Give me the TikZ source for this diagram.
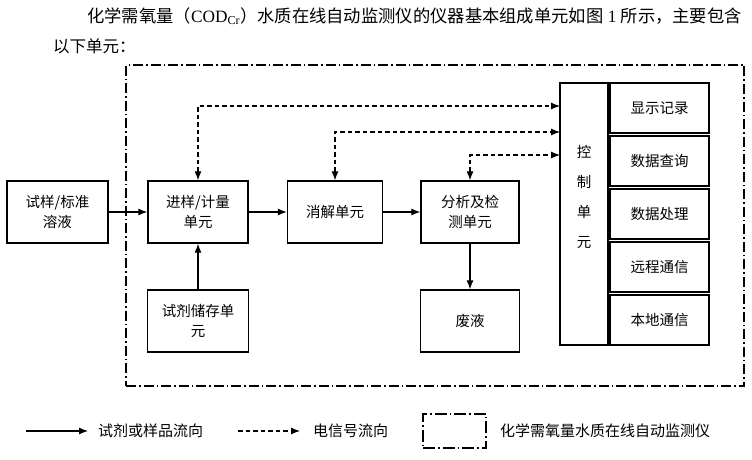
\documentclass[tikz,border=0pt]{standalone}
\usepackage{fontspec}
\setmainfont{Liberation Serif}
\newfontfamily\cjk{Noto Sans CJK SC}
\usetikzlibrary{arrows.meta, positioning}

\begin{document}
\begin{tikzpicture}[
            x=1pt, y=-1pt,
            every node/.style={font=\cjk\fontsize{14.5}{20}\selectfont, align=center, inner sep=0pt},
            box/.style={draw, line width=1.3pt, minimum width=100pt, minimum height=62pt},
            modbox/.style={draw, line width=1.3pt, minimum width=99pt, minimum height=50pt},
            flow/.style={-{Latex[length=9pt, width=7pt]}, line width=1.1pt},
            sig/.style={{Latex[length=9pt, width=7pt]}-{Latex[length=9pt, width=7pt]}, line width=1.1pt, dash pattern=on 4.5pt off 3pt},
            frame/.style={draw, line width=1.1pt, dash pattern=on 10pt off 3pt on 1.5pt off 3pt}
        ]
        \useasboundingbox (0,0) rectangle (752,460);

        % Text above the figure
        \node[anchor=west, font=\cjk\fontsize{17.3}{20}\selectfont] (para1) at (87,16)
            {化学需氧量（{\rmfamily COD\textsubscript{Cr}}）水质在线自动监测仪的仪器基本组成单元如图{\rmfamily\ 1 }所示，主要包含};
        \node[anchor=west, font=\cjk\fontsize{16.5}{20}\selectfont] (para2) at (53,46) {以下单元：};

        % Instrument frame
        \node[frame, minimum width=618pt, minimum height=321pt] (instrument) at (435,225.5) {};

        % Nodes
        \node[box, minimum width=101pt] (sample) at (57.5,212) {试样/标准\\溶液};
        \node[box] (inject) at (198,212) {进样/计量\\单元};
        \node[box, minimum width=95pt] (digest) at (335,212) {消解单元};
        \node[box, minimum width=98pt] (analyze) at (470,212) {分析及检\\测单元};
        \node[box, minimum width=101pt] (store) at (198,321) {试剂储存单\\元};
        \node[box, minimum width=99pt] (waste) at (470,321) {废液};

        % Control unit and its modules
        \node[draw, line width=1.3pt, minimum width=48pt, minimum height=262pt] (ctrl) at (584,214) {};
        \node[font=\cjk\fontsize{14.5}{30}\selectfont] (ctrltext) at (584,197) {控\\制\\单\\元};
        \foreach \name/\txt [count=\i] in {show/显示记录, query/数据查询, proc/数据处理, remote/远程通信, local/本地通信}
            \node[modbox] (\name) at (659.5,55+53*\i) {\txt};

        % Connections
        \draw[flow] (sample) -- (inject);
        \draw[flow] (inject) -- (digest);
        \draw[flow] (digest) -- (analyze);
        \draw[flow] (store) -- (inject);
        \draw[flow] (analyze) -- (waste);

        % Signal lines to the control unit
        \coordinate (c1) at (560,106);
        \coordinate (c2) at (560,132);
        \coordinate (c3) at (560,155);
        \draw[sig] (inject) |- (c1);
        \draw[sig] (digest) |- (c2);
        \draw[sig] (analyze) |- (c3);

        % Legend
        \coordinate (l1a) at (26,431);
        \coordinate (l1b) at (88,431);
        \coordinate (l2a) at (238,431);
        \coordinate (l2b) at (300,431);
        \draw[flow] (l1a) -- (l1b);
        \node[anchor=west, font=\cjk\fontsize{15}{18}\selectfont] (legflow) at (98,431) {试剂或样品流向};
        \draw[sig, arrows={-Latex[length=9pt, width=7pt]}] (l2a) -- (l2b);
        \node[anchor=west, font=\cjk\fontsize{15}{18}\selectfont] (legsig) at (313,431) {电信号流向};
        \node[frame, dash pattern=on 12pt off 3pt on 1.5pt off 3pt, minimum width=63pt, minimum height=34pt] (legbox) at (454.5,431) {};
        \node[anchor=west, font=\cjk\fontsize{15}{18}\selectfont] (leginst) at (500,431) {化学需氧量水质在线自动监测仪};

    \end{tikzpicture}
\end{document}
